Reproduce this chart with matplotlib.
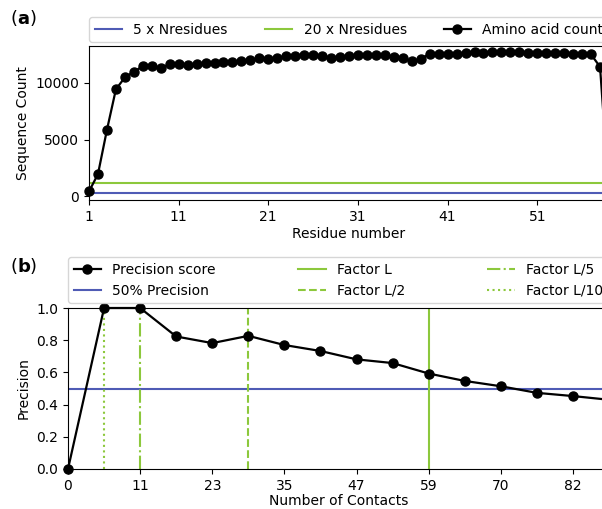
import matplotlib
matplotlib.use('Agg')
import matplotlib.pyplot as plt

N_RESIDUES = 59

residues = list(range(1, 60))
aa_counts = [440, 1960, 5850, 9415, 10470, 10965, 11460, 11460, 11315, 11610,
             11610, 11520, 11610, 11700, 11755, 11785, 11840, 11900, 11960, 12135,
             12075, 12135, 12340, 12370, 12430, 12430, 12370, 12190, 12220, 12370,
             12400, 12430, 12430, 12400, 12280, 12135, 11900, 12075, 12570, 12515,
             12515, 12485, 12630, 12660, 12630, 12660, 12690, 12660, 12660, 12630,
             12630, 12630, 12630, 12600, 12570, 12545, 12485, 11400, 300]
res_ticks = [1, 11, 21, 31, 41, 51]

contacts = [0, 5.9, 11.8, 17.7, 23.6, 29.5, 35.4, 41.3, 47.2, 53.1,
            59.0, 64.9, 70.8, 76.7, 82.6, 88.5]
precision = [0.0, 1.0, 1.0, 0.823, 0.782, 0.827, 0.770, 0.733, 0.681, 0.658,
             0.593, 0.547, 0.514, 0.473, 0.453, 0.43]
contact_ticks = [0, 11.8, 23.6, 35.4, 47.2, 59.0, 70.8, 82.6]
contact_labels = ['0', '11', '23', '35', '47', '59', '70', '82']

factor_lines = {'Factor L': (N_RESIDUES, '-'),
                'Factor L/2': (N_RESIDUES / 2, '--'),
                'Factor L/5': (N_RESIDUES / 5, '-.'),
                'Factor L/10': (N_RESIDUES / 10, ':')}

BLUE = '#4f5bb5'
GREEN = '#8cc83c'

fig = plt.figure(figsize=(6.02, 5.09), dpi=100)

# panel (a)
ax1 = fig.add_axes([89 / 602, 1 - 200 / 509, 520 / 602, 154 / 509])
ax1.axhline(5 * N_RESIDUES, color=BLUE, lw=1.5, label='5 x Nresidues')
ax1.axhline(20 * N_RESIDUES, color=GREEN, lw=1.5, label='20 x Nresidues')
ax1.plot(residues, aa_counts, color='black', marker='o', ms=6.5, lw=1.6,
         clip_on=False, label='Amino acid count')
ax1.set_xlim(1, N_RESIDUES)
ax1.set_ylim(-315, 13230)
ax1.set_xticks(res_ticks)
ax1.set_yticks([0, 5000, 10000])
ax1.set_xlabel('Residue number', labelpad=2)
ax1.set_ylabel('Sequence Count')
ax1.legend(loc='lower left', bbox_to_anchor=(0, 1.025, 1, 0.15), mode='expand',
           ncol=3, borderaxespad=0, fontsize=10)
fig.text(0.016, 0.965, r'($\mathbf{a}$)', fontsize=13, va='center')

# panel (b)
ax2 = fig.add_axes([68 / 602, 1 - 469 / 509, 541 / 602, 161 / 509])
ax2.plot(contacts, precision, color='black', marker='o', ms=6.5, lw=1.6,
         clip_on=False, zorder=5, label='Precision score')
ax2.axhline(0.5, color=BLUE, lw=1.5, label='50% Precision')
for name, (pos, style) in factor_lines.items():
    ax2.axvline(pos, color=GREEN, ls=style, lw=1.5, label=name)
ax2.set_xlim(0, 1.5 * N_RESIDUES)
ax2.set_ylim(0, 1.0)
ax2.set_xticks(contact_ticks)
ax2.set_xticklabels(contact_labels)
ax2.set_yticks([0.0, 0.2, 0.4, 0.6, 0.8, 1.0])
ax2.set_xlabel('Number of Contacts', labelpad=1)
ax2.set_ylabel('Precision')
ax2.legend(loc='lower left', bbox_to_anchor=(0, 1.03, 1, 0.3), mode='expand',
           ncol=3, borderaxespad=0, fontsize=10)
fig.text(0.016, 0.477, r'($\mathbf{b}$)', fontsize=13, va='center')

fig.savefig('out.png', dpi=100)
